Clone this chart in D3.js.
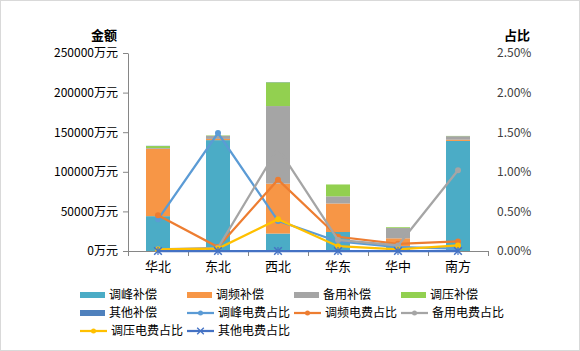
<!DOCTYPE html>
<html>
<head>
<meta charset="utf-8">
<script src="https://cdn.jsdelivr.net/npm/d3@7"></script>
<style>
  body { margin: 0; background: #fff; }
  text { font-family: "Noto Sans CJK SC", "DejaVu Sans", sans-serif; }
</style>
</head>
<body>
<div class="canva"></div>
<script>
// data
const categories = ["华北", "东北", "西北", "华东", "华中", "南方"];
const peakComp = [44000, 140000, 22000, 24000, 6000, 139000];     // 调峰补偿
const freqComp = [85000, 1500, 63000, 36000, 10000, 1500];       // 调频补偿
const reserveComp = [1000, 4000, 98000, 9000, 13000, 4500];      // 备用补偿
const voltageComp = [2500, 500, 30000, 15000, 1000, 300];        // 调压补偿
const otherComp = [300, 0, 300, 0, 0, 0];                        // 其他补偿

const peakPct = [0.40, 1.49, 0.38, 0.12, 0.05, 0.03];
const freqPct = [0.45, 0.05, 0.90, 0.18, 0.09, 0.12];
const reservePct = [0.02, 0.04, 1.30, 0.14, 0.07, 1.02];
const voltagePct = [0.02, 0.03, 0.40, 0.06, 0.02, 0.07];
const otherPct = [0, 0, 0, 0, 0, 0];

const leftTicks = [0, 50000, 100000, 150000, 200000, 250000];
const rightTicks = [0, 0.5, 1.0, 1.5, 2.0, 2.5];

const barNames = ["调峰补偿", "调频补偿", "备用补偿", "调压补偿", "其他补偿"];
const lineNames = ["调峰电费占比", "调频电费占比", "备用电费占比", "调压电费占比", "其他电费占比"];
const barColors = ["#4bacc6", "#f79646", "#a5a5a5", "#92d050", "#4f81bd"];
const lineColors = ["#5b9bd5", "#ed7d31", "#a5a5a5", "#ffc000", "#4472c4"];

const W = 580, H = 351;
const margin = {top: 53, right: 92, bottom: 100, left: 128};
const graphWidth = W - margin.left - margin.right;
const graphHeight = H - margin.top - margin.bottom;

const svg = d3.select(".canva").append("svg")
  .attr("width", W).attr("height", H);

svg.append("rect")
  .attr("x", 0.5).attr("y", 0.5)
  .attr("width", W - 1).attr("height", H - 1)
  .attr("fill", "#fff").attr("stroke", "#d9d9d9");

const graph = svg.append("g")
  .attr("transform", `translate(${margin.left}, ${margin.top})`);

const x = d3.scaleBand()
  .domain(categories)
  .range([0, graphWidth])
  .paddingInner(0.6)
  .paddingOuter(0.3);

const yL = d3.scaleLinear().domain([0, 250000]).range([graphHeight, 0]);
const yR = d3.scaleLinear().domain([0, 2.5]).range([graphHeight, 0]);

// stacked bars
const rows = categories.map((c, i) => ({
  cat: c,
  s0: peakComp[i], s1: freqComp[i], s2: reserveComp[i], s3: voltageComp[i], s4: otherComp[i]
}));
const stack = d3.stack().keys(["s0", "s1", "s2", "s3", "s4"])(rows);

graph.selectAll("g.layer")
  .data(stack)
  .enter().append("g")
  .attr("class", "layer")
  .attr("fill", (d, i) => barColors[i])
  .selectAll("rect")
  .data(d => d)
  .enter().append("rect")
  .attr("x", d => x(d.data.cat))
  .attr("width", x.bandwidth())
  .attr("y", d => yL(d[1]))
  .attr("height", d => yL(d[0]) - yL(d[1]));

// axes
const axisColor = "#868686";

const yAxisGroup = graph.append("g")
  .call(d3.axisLeft(yL).tickValues(leftTicks).tickSize(5).tickSizeOuter(0).tickPadding(5)
    .tickFormat(d => d + "万元"));

const xTickScale = d3.scaleLinear().domain([0, categories.length]).range([0, graphWidth]);
const xTickGroup = graph.append("g")
  .attr("transform", `translate(0, ${graphHeight})`)
  .call(d3.axisBottom(xTickScale).tickValues(d3.range(categories.length + 1)).tickSize(5)
    .tickSizeOuter(0).tickFormat(""));

const xAxisGroup = graph.append("g")
  .attr("transform", `translate(0, ${graphHeight})`)
  .call(d3.axisBottom(x).tickSize(0).tickPadding(11));
xAxisGroup.select(".domain").remove();

const yRAxisGroup = graph.append("g")
  .attr("transform", `translate(${graphWidth}, 0)`)
  .call(d3.axisRight(yR).tickValues(rightTicks).tickSize(0).tickPadding(9)
    .tickFormat(d => d.toFixed(2) + "%"));
yRAxisGroup.select(".domain").remove();

[yAxisGroup, xTickGroup].forEach(g => {
  g.selectAll(".domain, line").attr("stroke", axisColor);
});
yAxisGroup.selectAll("text").attr("font-size", 12).attr("fill", "#000")
  .attr("font-family", "'Noto Sans CJK SC', sans-serif");
yRAxisGroup.selectAll("text").attr("font-size", 12).attr("fill", "#404040")
  .attr("font-family", "'Noto Sans CJK SC', sans-serif");
xAxisGroup.selectAll("text").attr("font-size", 13).attr("fill", "#000")
  .attr("font-family", "'Noto Sans CJK SC', sans-serif");

// axis titles
svg.append("text").text("金额")
  .attr("x", 117).attr("y", 40).attr("text-anchor", "end")
  .attr("font-size", 13).attr("font-weight", "bold");
svg.append("text").text("占比")
  .attr("x", 517).attr("y", 40).attr("text-anchor", "middle")
  .attr("font-size", 13).attr("font-weight", "bold");

// lines
const pctSeries = [peakPct, freqPct, reservePct, voltagePct, otherPct];
const line = d3.line()
  .x((d, i) => x(categories[i]) + x.bandwidth() / 2)
  .y(d => yR(d));

pctSeries.forEach((vals, k) => {
  graph.append("path")
    .datum(vals)
    .attr("fill", "none")
    .attr("stroke", lineColors[k])
    .attr("stroke-width", 2.25)
    .attr("d", line);

  const pts = graph.append("g");
  vals.forEach((v, i) => {
    const cx = x(categories[i]) + x.bandwidth() / 2, cy = yR(v);
    if (k === 4) {
      pts.append("path")
        .attr("d", d3.symbol(d3.symbolX, 40)())
        .attr("transform", `translate(${cx}, ${cy})`)
        .attr("stroke", lineColors[k]).attr("stroke-width", 1.5).attr("fill", "none");
      pts.append("line")
        .attr("x1", cx).attr("x2", cx).attr("y1", cy - 4).attr("y2", cy + 4)
        .attr("stroke", lineColors[k]).attr("stroke-width", 1.2);
    } else {
      pts.append("circle")
        .attr("cx", cx).attr("cy", cy).attr("r", 3)
        .attr("fill", lineColors[k]);
    }
  });
});

// legend
const legendItems = barNames.map((n, i) => ({name: n, color: barColors[i], type: "bar"}))
  .concat(lineNames.map((n, i) => ({name: n, color: lineColors[i], type: "line", idx: i})));
const colX = [80, 187, 294, 401];
const rowY = [295, 313, 331];

const legend = svg.append("g");
legendItems.forEach((item, i) => {
  const cx = colX[i % 4], cy = rowY[Math.floor(i / 4)];
  const g = legend.append("g").attr("transform", `translate(${cx}, ${cy})`);
  if (item.type === "bar") {
    g.append("rect").attr("x", 0).attr("y", -3).attr("width", 25).attr("height", 6)
      .attr("fill", item.color);
  } else {
    g.append("line").attr("x1", 0).attr("x2", 27).attr("y1", 0).attr("y2", 0)
      .attr("stroke", item.color).attr("stroke-width", 2.25);
    if (item.idx === 4) {
      g.append("path").attr("d", d3.symbol(d3.symbolX, 30)())
        .attr("transform", "translate(13.5, 0)")
        .attr("stroke", item.color).attr("stroke-width", 1.3).attr("fill", "none");
    } else {
      g.append("circle").attr("cx", 13.5).attr("cy", 0).attr("r", 2.5).attr("fill", item.color);
    }
  }
  g.append("text").text(item.name)
    .attr("x", item.type === "bar" ? 29 : 31).attr("y", 0).attr("dy", "0.36em")
    .attr("font-size", 12).attr("fill", "#000");
});
</script>
</body>
</html>
